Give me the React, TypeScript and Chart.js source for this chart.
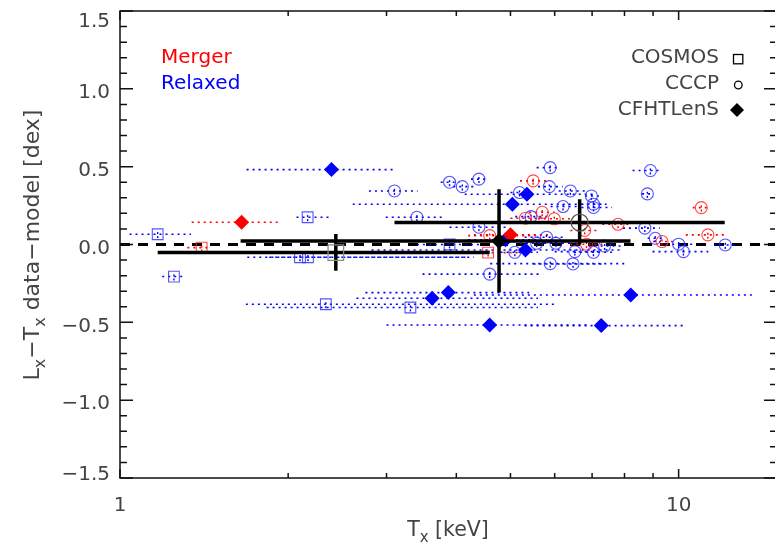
import { useEffect, useRef } from "react";
import { Chart, registerables } from "chart.js";
Chart.register(...registerables);

// ---------------- axis ranges / ticks ----------------
const X_MIN = 1;
const X_MAX = 15;
const Y_MIN = -1.5;
const Y_MAX = 1.5;
const Y_MAJOR_TICKS = [-1.5, -1.0, -0.5, 0.0, 0.5, 1.0, 1.5];
const Y_TICK_LABELS = ["−1.5", "−1.0", "−0.5", "0.0", "0.5", "1.0", "1.5"];
const Y_MINOR_TICKS = [-1.4, -1.3, -1.2, -1.1, -0.9, -0.8, -0.7, -0.6, -0.4, -0.3, -0.2, -0.1, 0.1, 0.2, 0.3, 0.4, 0.6, 0.7, 0.8, 0.9, 1.1, 1.2, 1.3, 1.4];
const X_MAJOR_TICKS = [1, 10];
const X_TICK_LABELS = ["1", "10"];
const X_MINOR_TICKS = [2, 3, 4, 5, 6, 7, 8, 9];
const Y_ERR = 0.025;

// ---------------- data ----------------
// COSMOS (squares)
const cosmosRelaxedT = [1.168, 1.249, 2.167, 2.10, 2.17, 2.336, 3.31, 3.89];
const cosmosRelaxedD = [0.066, -0.206, 0.175, -0.082, -0.082, -0.384, -0.405, 0.0];
const cosmosRelaxedTLo = [1.04, 1.19, 2.07, 1.69, 1.85, 1.68, 1.83, 3.4];
const cosmosRelaxedTHi = [1.34, 1.30, 2.39, 4.2, 4.3, 6.0, 5.6, 4.4];

const cosmosMergerT = [1.40, 4.56];
const cosmosMergerD = [-0.02, -0.052];
const cosmosMergerTLo = [1.32, 3.89];
const cosmosMergerTHi = [1.455, 5.3];

// CCCP (circles)
const cccpRelaxedT = [3.10, 3.40, 3.89, 4.10, 4.39, 5.89, 5.87, 6.40, 5.19, 6.21, 6.98, 7.04, 7.04, 5.44, 4.39, 5.80, 5.57, 6.03, 5.09, 4.59, 5.89, 6.47, 6.52, 7.04, 7.37, 8.90, 8.79, 8.70, 9.08, 10.0, 10.2, 12.12];
const cccpRelaxedD = [0.344, 0.175, 0.40, 0.372, 0.42, 0.494, 0.372, 0.344, 0.334, 0.244, 0.312, 0.259, 0.238, 0.179, 0.111, 0.047, 0.008, 0.008, -0.05, -0.19, -0.123, -0.125, -0.046, -0.05, -0.01, 0.475, 0.325, 0.105, 0.04, 0.002, -0.046, -0.003];
const cccpRelaxedTLo = [2.79, 2.99, 3.75, 3.95, 4.25, 5.57, 5.6, 6.1, 5.0, 5.9, 6.8, 6.7, 6.7, 5.1, 3.89, 5.3, 5.2, 5.6, 4.8, 3.48, 4.6, 5.5, 6.0, 6.5, 6.9, 8.27, 8.6, 7.95, 8.8, 9.5, 8.98, 11.6];
const cccpRelaxedTHi = [3.41, 3.77, 4.05, 4.3, 4.55, 6.13, 6.2, 6.9, 5.4, 6.6, 7.2, 7.4, 7.6, 5.9, 4.95, 6.3, 6.0, 6.4, 5.6, 5.68, 8.1, 7.4, 7.3, 7.6, 7.9, 9.33, 9.0, 9.25, 9.4, 10.6, 11.3, 12.6];

const cccpMergerT = [5.49, 5.70, 5.32, 5.99, 4.59, 6.79, 6.84, 7.79, 9.34, 10.98, 11.28];
const cccpMergerD = [0.409, 0.207, 0.169, 0.165, 0.057, 0.09, 0.002, 0.13, 0.019, 0.237, 0.062];
const cccpMergerTLo = [5.2, 5.4, 5.0, 5.6, 4.2, 6.4, 6.4, 7.3, 9.0, 10.6, 10.3];
const cccpMergerTHi = [5.8, 6.0, 5.8, 6.4, 5.57, 7.2, 7.4, 8.2, 9.8, 11.3, 12.2];

// CFHTLenS (diamonds)
const cfhtRelaxedT = [2.391, 3.62, 3.87, 4.59, 7.27, 5.35, 5.04, 5.32, 4.90, 8.21];
const cfhtRelaxedD = [0.481, -0.345, -0.309, -0.517, -0.521, 0.323, 0.259, -0.035, 0.03, -0.324];
const cfhtRelaxedTLo = [1.685, 2.65, 2.75, 3.0, 5.3, 4.14, 2.61, 2.82, 4.2, 4.3];
const cfhtRelaxedTHi = [3.08, 5.6, 5.4, 6.9, 10.3, 7.03, 7.43, 7.9, 5.6, 13.6];

const cfhtMergerT = [1.651, 5.00];
const cfhtMergerD = [0.143, 0.062];
const cfhtMergerTLo = [1.344, 4.3];
const cfhtMergerTHi = [1.94, 5.9];

// Sample means (thick black error bars)
const meanNames = ["COSMOS", "CFHTLenS", "CCCP"];
const meanT = [2.434, 4.77, 6.65];
const meanD = [-0.052, 0.023, 0.141];
const meanTLo = [1.168, 1.644, 3.10];
const meanTHi = [4.59, 8.2, 12.09];
const meanDLo = [-0.168, -0.309, 0.002];
const meanDHi = [0.068, 0.355, 0.291];

const legendClasses = ["Merger", "Relaxed"];
const legendSamples = ["COSMOS", "CCCP", "CFHTLenS"];

// ---------------- styling ----------------
const RED = "#ff0000";
const BLUE = "#0000ff";
const RED_OUT = "rgba(255,40,40,0.85)";
const BLUE_OUT = "rgba(40,40,255,0.8)";
const FONT = "'DejaVu Sans'";
const TEXT = "#444444";

function build(t: number[], d: number[], lo: number[], hi: number[]) {
  return t.map((x, i) => ({ x, y: d[i], xMin: lo[i], xMax: hi[i] }));
}

type Part = { t: string; sub?: boolean };

function richWidth(ctx: CanvasRenderingContext2D, parts: Part[], size: number) {
  let w = 0;
  for (const p of parts) {
    ctx.font = `${p.sub ? Math.round(size * 0.72) : size}px ${FONT}`;
    w += ctx.measureText(p.t).width;
  }
  return w;
}

function drawRich(ctx: CanvasRenderingContext2D, parts: Part[], x: number, y: number, size: number) {
  let cx = x;
  for (const p of parts) {
    ctx.font = `${p.sub ? Math.round(size * 0.72) : size}px ${FONT}`;
    ctx.fillText(p.t, cx, p.sub ? y + size * 0.28 : y);
    cx += ctx.measureText(p.t).width;
  }
}

const decorPlugin = {
  id: "decor",
  beforeDatasetsDraw(chart: any) {
    const { ctx, chartArea: a, scales } = chart;
    const xs = scales.x;
    const ys = scales.y;
    ctx.save();
    ctx.beginPath();
    ctx.rect(a.left, a.top, a.right - a.left, a.bottom - a.top);
    ctx.clip();
    // zero line
    const y0 = ys.getPixelForValue(0);
    ctx.setLineDash([10, 8]);
    ctx.lineWidth = 3;
    ctx.strokeStyle = "#000";
    ctx.beginPath();
    ctx.moveTo(a.left, y0);
    ctx.lineTo(a.right, y0);
    ctx.stroke();
    // dotted error bars
    chart.data.datasets.forEach((ds: any) => {
      if (ds.isMean) return;
      ctx.strokeStyle = ds.errColor;
      ctx.lineWidth = 1.6;
      ctx.setLineDash([2, 4]);
      ds.data.forEach((p: any) => {
        const py = ys.getPixelForValue(p.y);
        ctx.beginPath();
        ctx.moveTo(xs.getPixelForValue(p.xMin), py);
        ctx.lineTo(xs.getPixelForValue(p.xMax), py);
        ctx.stroke();
      });
      ctx.setLineDash([2, 2]);
      ctx.lineWidth = 1.4;
      ds.data.forEach((p: any) => {
        const px = xs.getPixelForValue(p.x);
        ctx.beginPath();
        ctx.moveTo(px, ys.getPixelForValue(p.y - Y_ERR));
        ctx.lineTo(px, ys.getPixelForValue(p.y + Y_ERR));
        ctx.stroke();
      });
    });
    ctx.restore();
  },
  beforeDatasetDraw(chart: any, args: any) {
    const ds = chart.data.datasets[args.index];
    if (!ds.isMean) return;
    const { ctx, scales } = chart;
    const xs = scales.x;
    const ys = scales.y;
    ctx.save();
    ctx.strokeStyle = "#000";
    ctx.lineWidth = 3.5;
    ctx.setLineDash([]);
    ds.data.forEach((p: any) => {
      const px = xs.getPixelForValue(p.x);
      const py = ys.getPixelForValue(p.y);
      ctx.beginPath();
      ctx.moveTo(xs.getPixelForValue(p.xMin), py);
      ctx.lineTo(xs.getPixelForValue(p.xMax), py);
      ctx.moveTo(px, ys.getPixelForValue(p.yMin));
      ctx.lineTo(px, ys.getPixelForValue(p.yMax));
      ctx.stroke();
    });
    ctx.restore();
  },
  afterDraw(chart: any) {
    const { ctx, chartArea: a, scales } = chart;
    const xs = scales.x;
    const ys = scales.y;
    ctx.save();
    ctx.setLineDash([]);
    // box
    ctx.strokeStyle = "#111";
    ctx.lineWidth = 1.5;
    ctx.strokeRect(a.left, a.top, a.right - a.left, a.bottom - a.top);
    // y ticks
    ctx.beginPath();
    const yTick = (v: number, len: number) => {
      const py = ys.getPixelForValue(v);
      ctx.moveTo(a.left, py);
      ctx.lineTo(a.left + len, py);
      ctx.moveTo(a.right, py);
      ctx.lineTo(a.right - len, py);
    };
    Y_MAJOR_TICKS.forEach((v) => yTick(v, 13));
    Y_MINOR_TICKS.forEach((v) => yTick(v, 7));
    const xTick = (v: number, len: number) => {
      const px = xs.getPixelForValue(v);
      ctx.moveTo(px, a.bottom);
      ctx.lineTo(px, a.bottom - len);
      ctx.moveTo(px, a.top);
      ctx.lineTo(px, a.top + len);
    };
    X_MAJOR_TICKS.forEach((v) => xTick(v, 9));
    X_MINOR_TICKS.forEach((v) => xTick(v, 5));
    ctx.stroke();

    // tick labels
    ctx.fillStyle = TEXT;
    ctx.font = `20px ${FONT}`;
    ctx.textAlign = "right";
    ctx.textBaseline = "alphabetic";
    Y_MAJOR_TICKS.forEach((v, i) => {
      let base = ys.getPixelForValue(v) + 9.3;
      if (base < a.top + 16) base = a.top + 16;
      if (base > a.bottom + 1.5) base = a.bottom + 1.5;
      ctx.fillText(Y_TICK_LABELS[i], 110, base);
    });
    ctx.textAlign = "center";
    X_MAJOR_TICKS.forEach((v, i) => {
      ctx.fillText(X_TICK_LABELS[i], xs.getPixelForValue(v), 511);
    });

    // axis titles
    ctx.textAlign = "left";
    const xt: Part[] = [{ t: "T" }, { t: "x", sub: true }, { t: " [keV]" }];
    const xw = richWidth(ctx, xt, 20.5);
    drawRich(ctx, xt, 448 - xw / 2, 536, 20.5);

    const yt: Part[] = [{ t: "L" }, { t: "x", sub: true }, { t: "−T" }, { t: "x", sub: true }, { t: " data−model [dex]" }];
    ctx.save();
    ctx.translate(38.5, 245);
    ctx.rotate(-Math.PI / 2);
    const yw = richWidth(ctx, yt, 22);
    drawRich(ctx, yt, -yw / 2, 0, 22);
    ctx.restore();

    // legend: classes
    ctx.font = `20px ${FONT}`;
    ctx.textAlign = "left";
    ctx.fillStyle = RED;
    ctx.fillText(legendClasses[0], 161, 63.3);
    ctx.fillStyle = BLUE;
    ctx.fillText(legendClasses[1], 161, 89.3);

    // legend: samples
    ctx.fillStyle = TEXT;
    ctx.textAlign = "right";
    ctx.fillText(legendSamples[0], 719, 63.3);
    ctx.fillText(legendSamples[1], 719, 89.3);
    ctx.fillText(legendSamples[2], 719, 115);
    ctx.strokeStyle = "#000";
    ctx.lineWidth = 1.3;
    ctx.strokeRect(733.5, 54.5, 9.3, 9.3);
    ctx.beginPath();
    ctx.arc(738.3, 85, 3.8, 0, Math.PI * 2);
    ctx.stroke();
    ctx.fillStyle = "#000";
    ctx.beginPath();
    ctx.moveTo(737, 103);
    ctx.lineTo(744, 110);
    ctx.lineTo(737, 117);
    ctx.lineTo(730, 110);
    ctx.closePath();
    ctx.fill();
    ctx.restore();
  },
};

export default function App() {
  const ref = useRef<HTMLCanvasElement | null>(null);
  useEffect(() => {
    if (!ref.current) return;
    const sq = { pointStyle: "rect", pointRadius: 7.6, borderWidth: 1.1, backgroundColor: "rgba(0,0,0,0)" };
    const ci = { pointStyle: "circle", pointRadius: 6, borderWidth: 1.1, backgroundColor: "rgba(0,0,0,0)" };
    const di = { pointStyle: "rectRot", pointRadius: 7.5, borderWidth: 0 };
    const meanData = (i: number) => [{ x: meanT[i], y: meanD[i], xMin: meanTLo[i], xMax: meanTHi[i], yMin: meanDLo[i], yMax: meanDHi[i] }];
    const chart = new Chart(ref.current, {
      type: "scatter",
      data: {
        datasets: [
          { label: meanNames[0] + " mean", isMean: true, order: 0, data: meanData(0), pointStyle: "rect", pointRadius: 11, borderWidth: 1.3, borderColor: "#8a8a8a", backgroundColor: "rgba(0,0,0,0)" },
          { label: meanNames[2] + " mean", isMean: true, order: 0, data: meanData(2), pointStyle: "circle", pointRadius: 8.5, borderWidth: 1.3, borderColor: "#555", backgroundColor: "rgba(0,0,0,0)" },
          { label: meanNames[1] + " mean", isMean: true, order: 0, data: meanData(1), pointStyle: "rectRot", pointRadius: 8, borderWidth: 0, backgroundColor: "#000" },
          { label: "CFHTLenS merger", order: 1, errColor: RED, data: build(cfhtMergerT, cfhtMergerD, cfhtMergerTLo, cfhtMergerTHi), ...di, backgroundColor: RED, borderColor: RED },
          { label: "CFHTLenS relaxed", order: 1, errColor: BLUE, data: build(cfhtRelaxedT, cfhtRelaxedD, cfhtRelaxedTLo, cfhtRelaxedTHi), ...di, backgroundColor: BLUE, borderColor: BLUE },
          { label: "CCCP merger", order: 1, errColor: RED, data: build(cccpMergerT, cccpMergerD, cccpMergerTLo, cccpMergerTHi), ...ci, borderColor: RED_OUT },
          { label: "CCCP relaxed", order: 1, errColor: BLUE, data: build(cccpRelaxedT, cccpRelaxedD, cccpRelaxedTLo, cccpRelaxedTHi), ...ci, borderColor: BLUE_OUT },
          { label: "COSMOS merger", order: 1, errColor: RED, data: build(cosmosMergerT, cosmosMergerD, cosmosMergerTLo, cosmosMergerTHi), ...sq, borderColor: RED_OUT },
          { label: "COSMOS relaxed", order: 1, errColor: BLUE, data: build(cosmosRelaxedT, cosmosRelaxedD, cosmosRelaxedTLo, cosmosRelaxedTHi), ...sq, borderColor: BLUE_OUT },
        ] as any,
      },
      options: {
        responsive: false,
        animation: false,
        devicePixelRatio: 1,
        events: [],
        layout: { autoPadding: false, padding: { left: 120, right: 3, top: 11, bottom: 68 } },
        plugins: { legend: { display: false }, tooltip: { enabled: false } },
        scales: {
          x: { type: "logarithmic", min: X_MIN, max: X_MAX, display: false },
          y: { type: "linear", min: Y_MIN, max: Y_MAX, display: false },
        },
      } as any,
      plugins: [decorPlugin],
    });
    return () => chart.destroy();
  }, []);
  return (
    <div style={{ position: "fixed", left: 0, top: 0, width: 775, height: 546, overflow: "hidden", background: "#fff" }}>
      <canvas ref={ref} width={780} height={546} style={{ display: "block", width: 780, height: 546 }} />
    </div>
  );
}
